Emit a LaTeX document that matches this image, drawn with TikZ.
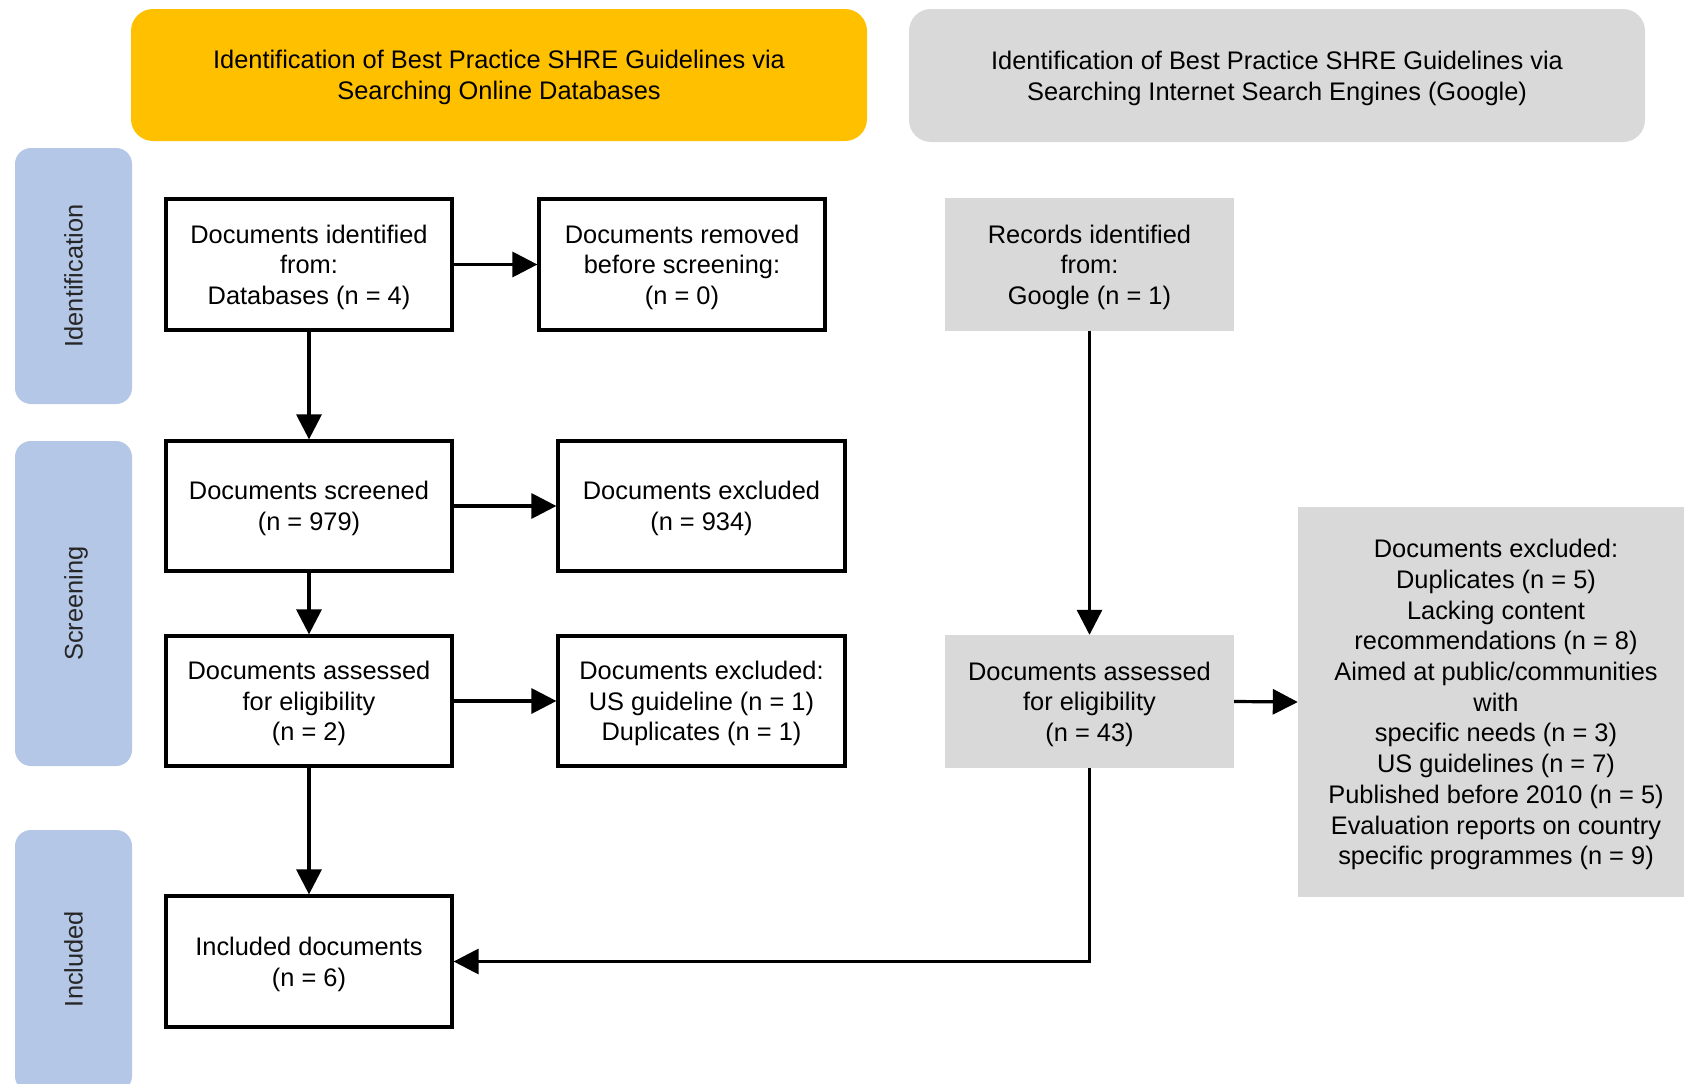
\documentclass[tikz,border=0pt]{standalone}
\usepackage{fontspec}
\setmainfont{Liberation Sans}
\usetikzlibrary{arrows.meta}
\definecolor{hdrorange}{HTML}{FFC000}
\definecolor{hdrgrey}{HTML}{D9D9D9}
\definecolor{sideblue}{HTML}{B4C7E7}
\begin{document}
\begin{tikzpicture}[x=1pt,y=-1pt,
  every node/.style={font=\fontsize{25.4}{30.7}\selectfont, align=center, inner sep=0pt, text depth=0pt},
  wbox/.style={draw=black, line width=3.2pt, fill=white, minimum width=286pt, minimum height=131pt},
  gbox/.style={fill=hdrgrey, minimum width=289pt, minimum height=133pt},
  header/.style={rounded corners=22pt, minimum width=736pt, minimum height=132pt},
  sidelab/.style={fill=sideblue, rounded corners=16pt, minimum width=117pt},
  sidetxt/.style={rotate=90, text=black!85},
  arr/.style={line width=3.2pt, -{Triangle[length=25pt,width=25pt]}}
]
\clip (0,0) rectangle (1684,1084);
\useasboundingbox (0,0) rectangle (1684,1084);

% headers
\node[header, fill=hdrorange] (h1) at (499,75) {Identification of Best Practice SHRE Guidelines via\\Searching Online Databases};
\node[header, fill=hdrgrey, minimum height=133pt] (h2) at (1277,75.5) {Identification of Best Practice SHRE Guidelines via\\Searching Internet Search Engines (Google)};

% side labels
\node[sidelab, minimum height=256pt] (s1) at (73.5,276) {};
\node[sidetxt] (s1t) at (s1.center) {Identification};
\node[sidelab, minimum height=325pt] (s2) at (73.5,603.5) {};
\node[sidetxt] (s2t) at (s2.center) {Screening};
\node[sidelab, minimum height=262pt] (s3) at (73.5,961) {};
\node[sidetxt] (s3t) at (73.5,959) {Included};

% left column
\node[wbox] (b1) at (309,264.5) {Documents identified\\from:\\Databases (n = 4)};
\node[wbox] (b2) at (682,264.5) {Documents removed\\before screening:\\(n = 0)};
\node[wbox, minimum height=130pt] (b3) at (309,506) {Documents screened\\(n = 979)};
\node[wbox, minimum height=130pt, minimum width=287pt] (b4) at (701.5,506) {Documents excluded\\(n = 934)};
\node[wbox, minimum height=130pt] (b5) at (309,701) {Documents assessed\\for eligibility\\(n = 2)};
\node[wbox, minimum height=130pt, minimum width=287pt] (b6) at (701.5,701) {Documents excluded:\\US guideline (n = 1)\\Duplicates (n = 1)};
\node[wbox] (b7) at (309,961.5) {Included documents\\(n = 6)};

% right column
\node[gbox] (g1) at (1089.5,264.5) {Records identified\\from:\\Google (n = 1)};
\node[gbox] (g2) at (1089.5,701.5) {Documents assessed\\for eligibility\\(n = 43)};
\node[fill=hdrgrey, minimum width=396pt, minimum height=390pt] (g3) at (1496,702) {Documents excluded:\\Duplicates (n = 5)\\Lacking content\\recommendations (n = 8)\\Aimed at public/communities\\with\\specific needs (n = 3)\\US guidelines (n = 7)\\Published before 2010 (n = 5)\\Evaluation reports on country\\specific programmes (n = 9)};

% connectors
\draw[arr] (b1.east) -- (b2.west);
\draw[arr] (b1.south) -- (b3.north);
\draw[arr] (b3.east) -- (b4.west);
\draw[arr] (b3.south) -- (b5.north);
\draw[arr] (b5.east) -- (b6.west);
\draw[arr] (b5.south) -- (b7.north);
\draw[arr] (g1.south) -- (g2.north);
\draw[arr] (g2.east) -- (g3.west);
\draw[arr] (g2.south) |- (b7.east);
\end{tikzpicture}
\end{document}
